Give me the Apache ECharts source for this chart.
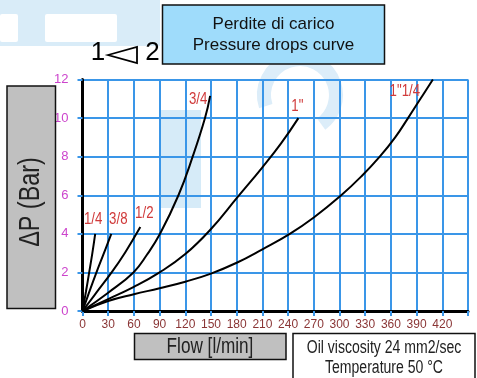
<!DOCTYPE html>
<html>
<head>
<meta charset="utf-8">
<script src="https://cdn.jsdelivr.net/npm/echarts@6/dist/echarts.min.js"></script>
<style>
  html, body { margin: 0; padding: 0; background: #fff; }
  #chart { width: 477px; height: 378px; }
</style>
</head>
<body>
<div id="chart"></div>
<script>
// 管径名称 / 曲线数据 [流量 l/min, 压降 bar]
var sizeNames = ['1/4', '3/8', '1/2', '3/4', '1"', '1"1/4'];
var curve14 = [[0, 0], [4, 1], [7.8, 2], [11.5, 3], [14.8, 4]];
var curve38 = [[0, 0], [8, 1], [16.3, 2], [25, 3], [33.6, 4]];
var curve12 = [[0, 0], [17, 1], [34, 2], [50, 3.05], [67.5, 4.35]];
var curve34 = [[0, 0], [30, 0.95], [59.5, 2], [75, 2.9], [90.5, 4], [112, 6], [128.6, 8], [143, 10], [149, 11.15]];
var curve1 = [[0, 0], [30, 0.62], [60, 1.25], [90, 2], [120, 2.95], [150, 4.25], [180, 5.85], [210, 7.45], [232, 8.7], [252, 10]];
var curve114 = [[0, 0], [30, 0.52], [60, 0.87], [90, 1.18], [120, 1.52], [150, 1.94], [180, 2.5], [210, 3.2], [242, 4], [270, 4.85], [302, 6], [326, 7], [347, 8], [365, 9], [380, 10], [394.5, 11], [409, 12]];
var curves = [curve14, curve38, curve12, curve34, curve1, curve114];
// 标签相对曲线末端的偏移 (px)
var labelOffsets = [[-2, -15], [7, -15], [4, -14], [-12, 3], [-1, -12], [-28, 12]];

var flowTicks = [0, 30, 60, 90, 120, 150, 180, 210, 240, 270, 300, 330, 360, 390, 420];
var dpTicks = [0, 2, 4, 6, 8, 10, 12];

var sans = '"Liberation Sans", Arial, sans-serif';
var blue = '#3a96e8';
var narrowScale = 0.78;

var chart = echarts.init(document.getElementById('chart'));

var series = curves.map(function (c, i) {
  return {
    name: sizeNames[i],
    type: 'line',
    smooth: 0.45,
    showSymbol: false,
    symbol: 'none',
    lineStyle: { color: '#000', width: 2 },
    itemStyle: { color: '#000' },
    z: 5,
    data: c
  };
});

function narrowText(txt, x, y, size, color, rot, lh) {
  return {
    type: 'text', x: x, y: y, z: 21,
    rotation: rot || 0,
    scaleX: narrowScale,
    style: {
      text: txt, fontFamily: sans, fontSize: size, lineHeight: lh || size * 1.2,
      fill: color, align: 'center', verticalAlign: 'middle'
    }
  };
}

var graphics = [
  // 背景水印（淡色）
  { type: 'rect', z: -10, shape: { x: 0, y: 0, width: 160, height: 46 }, style: { fill: '#d9ecf8' } },
  { type: 'rect', z: -9, shape: { x: 0, y: 14, width: 18, height: 28, r: 2 }, style: { fill: '#fff' } },
  { type: 'rect', z: -9, shape: { x: 45, y: 14, width: 72, height: 28, r: 2 }, style: { fill: '#fff' } },
  { type: 'rect', z: -10, shape: { x: 161, y: 110, width: 40, height: 98 }, style: { fill: '#d6ebf8' } },
  { type: 'arc', z: -10, shape: { cx: 300, cy: 95, r: 36, startAngle: Math.PI * 0.9, endAngle: Math.PI * 2.3 }, style: { stroke: '#dcedf9', lineWidth: 14, fill: null } },
  // 标题框
  {
    type: 'rect', shape: { x: 162.5, y: 5, width: 222, height: 59 },
    style: { fill: '#9fdcfb', stroke: '#111', lineWidth: 1.5 }, z: 20
  },
  {
    type: 'text', x: 273.5, y: 35, z: 21,
    style: {
      text: 'Perdite di carico\nPressure drops curve',
      fontFamily: sans, fontSize: 17, lineHeight: 21,
      fill: '#111', align: 'center', verticalAlign: 'middle'
    }
  },
  // 1 ◁ 2
  {
    type: 'text', x: 98, y: 53, z: 21,
    style: { text: '1', fontFamily: sans, fontSize: 26, fill: '#000', align: 'center', verticalAlign: 'middle' }
  },
  {
    type: 'polygon', z: 21,
    shape: { points: [[108, 55], [137, 47], [137, 63]] },
    style: { fill: null, stroke: '#000', lineWidth: 1.8 }
  },
  {
    type: 'text', x: 152.5, y: 53, z: 21,
    style: { text: '2', fontFamily: sans, fontSize: 26, fill: '#000', align: 'center', verticalAlign: 'middle' }
  },
  // Y 轴名称框
  {
    type: 'rect', shape: { x: 7, y: 86, width: 48.5, height: 222.5 },
    style: { fill: '#c0c0c0', stroke: '#111', lineWidth: 1.5 }, z: 20
  },
  // X 轴名称框
  {
    type: 'rect', shape: { x: 134.5, y: 333.5, width: 151.5, height: 26 },
    style: { fill: '#c0c0c0', stroke: '#111', lineWidth: 1.5 }, z: 20
  },
  // 工况说明框
  {
    type: 'rect', shape: { x: 293, y: 333.5, width: 182, height: 50 },
    style: { fill: '#fff', stroke: '#111', lineWidth: 1.5 }, z: 20
  }
];

// 旋转的 Y 轴名称
graphics.push({
  type: 'text', x: 31, y: 202, z: 21,
  rotation: Math.PI / 2,
  scaleX: narrowScale,
  style: { text: 'ΔP (Bar)', fontFamily: sans, fontSize: 30, fill: '#222', align: 'center', verticalAlign: 'middle' }
});
graphics.push(narrowText('Flow [l/min]', 210, 346.5, 22, '#222'));
graphics.push(narrowText('Oil viscosity 24 mm2/sec\nTemperature 50 °C', 384, 358, 18, '#222', 0, 20));

var option = {
  backgroundColor: '#fff',
  animation: false,
  grid: { left: 82.5, right: 9, top: 79.5, bottom: 67 },
  xAxis: {
    type: 'value',
    min: 0,
    max: 450,
    interval: 30,
    axisLine: { show: true, lineStyle: { color: '#000', width: 3 } },
    axisTick: { show: true, length: 5, lineStyle: { color: blue, width: 2 } },
    splitLine: { show: true, lineStyle: { color: blue, width: 2 } },
    axisLabel: {
      margin: 8,
      color: '#8a3535',
      fontFamily: sans,
      fontSize: 12,
      formatter: function (v) { return flowTicks.indexOf(v) >= 0 ? String(v) : ''; }
    }
  },
  yAxis: {
    type: 'value',
    min: 0,
    max: 12,
    interval: 2,
    axisLine: { show: true, lineStyle: { color: '#000', width: 3 } },
    axisTick: { show: true, length: 5, lineStyle: { color: blue, width: 2 } },
    splitLine: { show: true, lineStyle: { color: blue, width: 2 } },
    axisLabel: {
      margin: 14,
      color: '#cc44cc',
      fontFamily: sans,
      fontSize: 13,
      formatter: function (v) { return dpTicks.indexOf(v) >= 0 ? String(v) : ''; }
    }
  },
  graphic: graphics,
  series: series
};

chart.setOption(option);

// 曲线名称标签：放在每条曲线末端附近
var labels = curves.map(function (c, i) {
  var end = chart.convertToPixel({ gridIndex: 0 }, c[c.length - 1]);
  return narrowText(sizeNames[i], end[0] + labelOffsets[i][0], end[1] + labelOffsets[i][1], 17, '#d03a3a');
});
chart.setOption({ graphic: graphics.concat(labels) });
</script>
</body>
</html>
